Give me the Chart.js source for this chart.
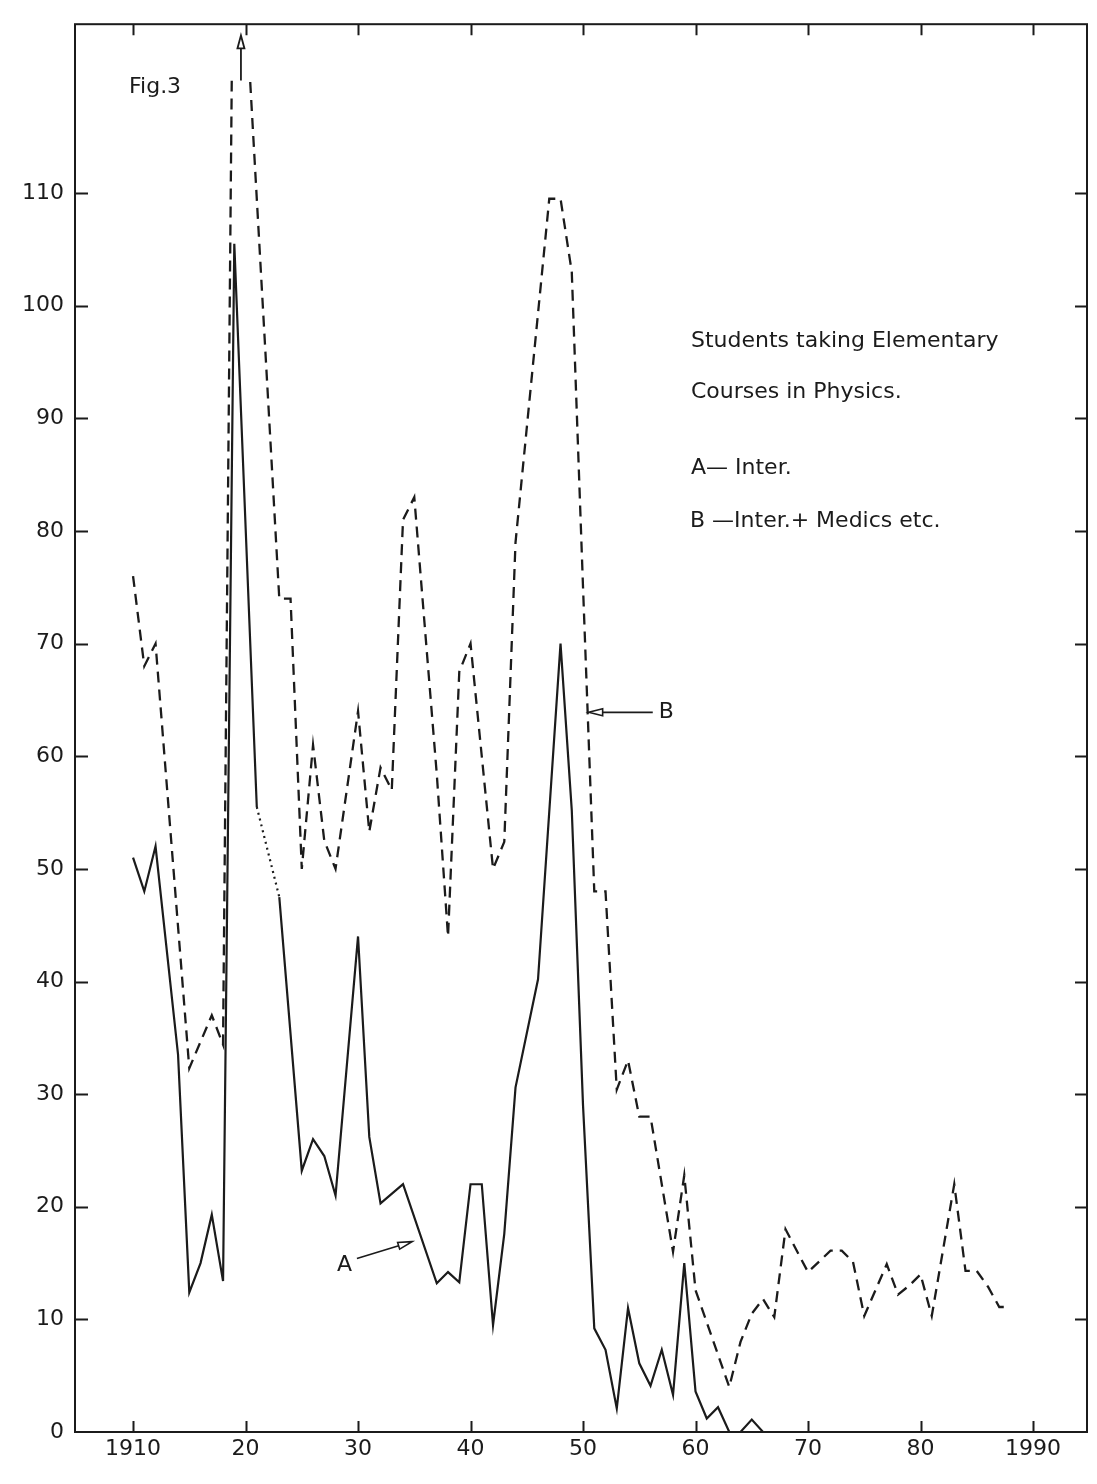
<!DOCTYPE html>
<html>
<head>
<meta charset="utf-8">
<script src="https://cdn.jsdelivr.net/npm/chart.js@4.4.1/dist/chart.umd.min.js"></script>
<style>
  html, body { margin: 0; padding: 0; background: #ffffff; }
  canvas { display: block; }
</style>
</head>
<body>
<canvas id="c" width="1097" height="1484"></canvas>
<script>
// ---------------- data ----------------
const yearsA = [1910,1911,1912,1914,1915,1916,1917,1918,1919,1921,1922,1923,1925,1926,1927,1928,1930,1931,1932,1934,1937,1938,1939,1940,1941,1942,1943,1944,1946,1948,1949,1950,1951,1952,1953,1954,1955,1956,1957,1958,1959,1960,1961,1962,1963,1964,1965,1966,1968];
// null = year not plotted (drawn as a dotted bridge)
const valuesA = [51,48,52,33.5,12.4,15,19.3,13.4,105.5,55.5,null,47.5,23.2,26,24.5,21,44,26.2,20.3,22,13.2,14.2,13.3,22,22,9.5,17.6,30.6,40.2,70,55.2,29,9.2,7.3,2.1,11,6.1,4.1,7.3,3.3,15,3.6,1.2,2.2,0,0,1.1,0,0];

const yearsB = [1910,1911,1912,1915,1917,1918,1919,1923,1924,1925,1926,1927,1928,1930,1931,1932,1933,1934,1935,1937,1938,1939,1940,1941,1942,1943,1944,1947,1948,1949,1950,1951,1952,1953,1954,1955,1956,1958,1959,1960,1963,1964,1965,1966,1967,1968,1970,1972,1973,1974,1975,1977,1978,1979,1980,1981,1983,1984,1985,1986,1987,1988];
// 1919 value lies off the scale (shown with an arrow); estimated
const valuesB = [76,68,70,32.3,37,34.4,145,74,74,50,61,52.5,50,64,53.3,59,57,81,83,58.4,44,67.5,70,60,50,52.4,79,109.5,109.5,103,75,48,48,30.4,33,28,28,16,22.8,12.6,4,8,10.5,11.8,10.2,18,14.2,16.1,16.1,15.1,10.3,14.9,12.2,13,14,10.3,22,14.3,14.3,12.9,11.1,11.1];

const xTickValues = [1910,1920,1930,1940,1950,1960,1970,1980,1990];
const xTickLabels = ['1910','20','30','40','50','60','70','80','1990'];
const yTickValues = [0,10,20,30,40,50,60,70,80,90,100,110];
const yTickLabels = ['0','10','20','30','40','50','60','70','80','90','100','110'];

const seriesNames = ['A', 'B'];
const bCeiling = 120;          // B is drawn up to this value; beyond it an arrow is shown

const titleLines = ['Students taking Elementary', 'Courses in Physics.'];
const legendLines = ['A\u2014 Inter.', 'B \u2014Inter.+ Medics etc.'];
const figLabel = 'Fig.3';

// ---------------- styling ----------------
const INK = '#1b1b1b';
const FONT = '"DejaVu Sans", "Liberation Sans", sans-serif';

const toPoints = (xs, ys) => xs.map((x, i) => ({ x: x, y: ys[i] }));

// pointer annotations in data coordinates
const pointers = [
  { text: 'A', tx: 1928.8, ty: 14.8, from: [1929.9, 15.4], to: [1934.8, 16.9] },
  { text: 'B', tx: 1957.4, ty: 63.9, from: [1956.2, 63.9], to: [1950.5, 63.9] }
];

function openArrow(ctx, x0, y0, x1, y1, len, half) {
  const ang = Math.atan2(y1 - y0, x1 - x0);
  const bx = x1 - len * Math.cos(ang), by = y1 - len * Math.sin(ang);
  ctx.beginPath(); ctx.moveTo(x0, y0); ctx.lineTo(bx, by); ctx.stroke();
  ctx.beginPath();
  ctx.moveTo(x1, y1);
  ctx.lineTo(bx + half * Math.sin(ang), by - half * Math.cos(ang));
  ctx.lineTo(bx - half * Math.sin(ang), by + half * Math.cos(ang));
  ctx.closePath();
  ctx.fillStyle = '#ffffff';
  ctx.fill();
  ctx.stroke();
}

// where series B crosses the ceiling around an off-scale value: arrow goes midway
function offScaleArrowYears() {
  const out = [];
  for (let i = 1; i < valuesB.length - 1; i++) {
    if (valuesB[i] > bCeiling) {
      const x0 = yearsB[i - 1], v0 = valuesB[i - 1], x1 = yearsB[i], v1 = valuesB[i], x2 = yearsB[i + 1], v2 = valuesB[i + 1];
      const left = x0 + (x1 - x0) * (bCeiling - v0) / (v1 - v0);
      const right = x1 + (x2 - x1) * (v1 - bCeiling) / (v1 - v2);
      out.push((left + right) / 2);
    }
  }
  return out;
}

// clip series B at the ceiling value
const ceilingClip = {
  id: 'ceilingClip',
  beforeDatasetDraw(chart, args) {
    if (args.index !== 1) return;
    const { ctx, chartArea: a, scales: { y } } = chart;
    const top = y.getPixelForValue(bCeiling);
    ctx.save();
    ctx.beginPath();
    ctx.rect(a.left - 4, top, a.right - a.left + 8, a.bottom - top + 4);
    ctx.clip();
  },
  afterDatasetDraw(chart, args) {
    if (args.index === 1) chart.ctx.restore();
  }
};

const framePlugin = {
  id: 'frame',
  afterDraw(chart) {
    const { ctx, chartArea: a, scales: { x, y } } = chart;
    ctx.save();
    ctx.strokeStyle = INK;
    ctx.lineWidth = 2;
    ctx.lineCap = 'butt';
    ctx.strokeRect(a.left, a.top, a.right - a.left, a.bottom - a.top);

    // inward tick marks on all four sides
    ctx.beginPath();
    xTickValues.forEach(v => {
      const px = Math.round(x.getPixelForValue(v)) + 0.5;
      ctx.moveTo(px, a.bottom); ctx.lineTo(px, a.bottom - 11);
      ctx.moveTo(px, a.top); ctx.lineTo(px, a.top + 11);
    });
    yTickValues.forEach(v => {
      if (v === 0) return;
      const py = Math.round(y.getPixelForValue(v)) + 0.5;
      ctx.moveTo(a.left, py); ctx.lineTo(a.left + 13, py);
      ctx.moveTo(a.right, py); ctx.lineTo(a.right - 12, py);
    });
    ctx.stroke();

    // off-scale arrow(s) for series B
    ctx.lineWidth = 1.8;
    offScaleArrowYears().forEach(yr => {
      const px = x.getPixelForValue(yr);
      openArrow(ctx, px, y.getPixelForValue(bCeiling), px, y.getPixelForValue(124.0), 13, 3.5);
    });

    // pointer annotations
    ctx.lineWidth = 1.6;
    pointers.forEach(p => {
      openArrow(ctx,
        x.getPixelForValue(p.from[0]), y.getPixelForValue(p.from[1]),
        x.getPixelForValue(p.to[0]), y.getPixelForValue(p.to[1]), 14, 3.5);
      ctx.fillStyle = INK;
      ctx.font = '22px ' + FONT;
      ctx.textAlign = 'center';
      ctx.textBaseline = 'middle';
      ctx.fillText(p.text, x.getPixelForValue(p.tx), y.getPixelForValue(p.ty));
    });

    // texts
    ctx.fillStyle = INK;
    ctx.textAlign = 'left';
    ctx.textBaseline = 'alphabetic';
    ctx.font = '22px ' + FONT;
    ctx.fillText(figLabel, a.left + 54, a.top + 69);
    ctx.fillText(titleLines[0], a.left + 616, a.top + 323);
    ctx.fillText(titleLines[1], a.left + 616, a.top + 374);
    ctx.fillText(legendLines[0], a.left + 616, a.top + 450);
    ctx.fillText(legendLines[1], a.left + 615, a.top + 503);
    ctx.restore();
  }
};

const gapped = ctx => ctx.p0.skip || ctx.p1.skip || (ctx.p1DataIndex - ctx.p0DataIndex > 1);

new Chart(document.getElementById('c'), {
  type: 'line',
  data: {
    datasets: [
      {
        label: seriesNames[0],
        data: toPoints(yearsA, valuesA),
        borderColor: INK,
        borderWidth: 2.2,
        pointRadius: 0,
        tension: 0,
        spanGaps: true,
        clip: 4,
        segment: {
          borderDash: ctx => gapped(ctx) ? [2, 4] : undefined
        }
      },
      {
        label: seriesNames[1],
        data: toPoints(yearsB, valuesB),
        borderColor: INK,
        borderWidth: 2.3,
        borderDash: [11, 7],
        pointRadius: 0,
        tension: 0
      }
    ]
  },
  options: {
    responsive: false,
    animation: false,
    devicePixelRatio: 1,
    layout: { padding: { top: 20, right: 10, left: 0, bottom: 0 } },
    plugins: {
      legend: { display: false },
      tooltip: { enabled: false },
      title: { display: false }
    },
    scales: {
      x: {
        type: 'linear',
        min: 1904.84,
        max: 1994.8,
        grid: { display: false, drawTicks: false, tickLength: 0 },
        border: { display: false },
        afterBuildTicks: s => { s.ticks = xTickValues.map(v => ({ value: v })); },
        afterFit: s => { s.height = 52; },
        ticks: {
          autoSkip: false,
          maxRotation: 0,
          padding: 4,
          color: INK,
          font: { family: FONT, size: 22 },
          callback: v => { const i = xTickValues.indexOf(v); return i >= 0 ? xTickLabels[i] : ''; }
        }
      },
      y: {
        min: 0,
        max: 125,
        grid: { display: false, drawTicks: false, tickLength: 0 },
        border: { display: false },
        afterBuildTicks: s => { s.ticks = yTickValues.map(v => ({ value: v })); },
        afterFit: s => { s.width = 75; },
        ticks: {
          autoSkip: false,
          padding: 11,
          color: INK,
          font: { family: FONT, size: 22 },
          callback: v => { const i = yTickValues.indexOf(v); return i >= 0 ? yTickLabels[i] : ''; }
        }
      }
    }
  },
  plugins: [ceilingClip, framePlugin]
});
</script>
</body>
</html>
